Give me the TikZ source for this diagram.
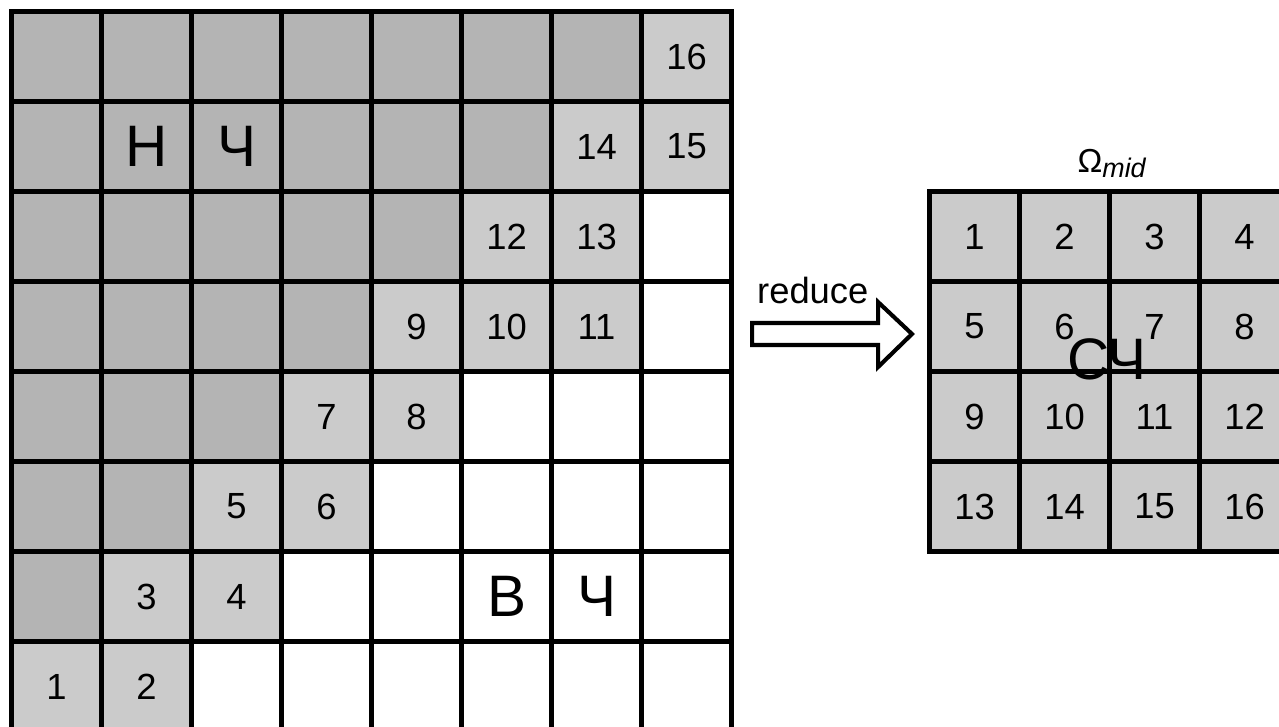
\documentclass[tikz,border=0pt]{standalone}
\usepackage{fontspec}
\setmainfont{Liberation Sans}
\usetikzlibrary{positioning,calc}
\definecolor{Dark}{HTML}{B4B4B4}
\definecolor{Light}{HTML}{CBCBCB}
\begin{document}
\begin{tikzpicture}[line width=1.3pt,
    cell/.style={fill=Light,minimum size=1cm,inner sep=0pt,font=\fontsize{11.5}{13}\selectfont},
    big/.style={inner sep=0pt,font=\fontsize{18.5}{20}\selectfont}]
    \useasboundingbox (0,0) rectangle (14.211,-8.067);
    \clip (0,0) rectangle (14.211,-8.067);
    % full band
    \begin{scope}[shift={(0.128,-8.128)}]
      \foreach \r/\n in {1/7,2/6,3/5,4/4,5/3,6/2,7/1}{\foreach \c in {1,...,\n}{\fill[Dark] (\c-1,8-\r) rectangle (\c,9-\r);}}
      \foreach \r/\c/\k in {8/1/1,8/2/2,7/2/3,7/3/4,6/3/5,6/4/6,5/4/7,5/5/8,4/5/9,4/6/10,4/7/11,3/6/12,3/7/13,2/7/14,2/8/15,1/8/16}{\node[cell] (a\k) at (\c-0.5,8.5-\r) {\k};}
      \draw (0,0) grid (8,8);
      \draw (0,0) rectangle (8,8);
      \node[big] (lowA) at (1.5,6.5) {Н};
      \node[big] (lowB) at (2.5,6.5) {Ч};
      \node[big] (highA) at (5.5,1.5) {В};
      \node[big] (highB) at (6.5,1.5) {Ч};
    \end{scope}
    % reduced band
    \begin{scope}[shift={(10.328,-6.128)}]
      \foreach \k in {1,...,16}{
        \pgfmathtruncatemacro\r{(\k-1)/4}
        \pgfmathtruncatemacro\c{mod(\k-1,4)}
        \node[cell] (b\k) at (\c+0.5,3.5-\r) {\k};}
      \draw (0,0) grid (4,4);
      \draw (0,0) rectangle (4,4);
      \node[big] (mid) at (1.97,2.13) {СЧ};
      \node[above=0.11cm of b2.north east,inner sep=0pt,font=\fontsize{10.5}{12}\selectfont] (omega) {Ω\raisebox{-1.5pt}{\fontsize{8.5}{10}\selectfont\itshape mid}};
    \end{scope}
    \draw (8.356,-3.589) -- (9.756,-3.589) -- (9.756,-3.356) -- (10.133,-3.711) -- (9.756,-4.078) -- (9.756,-3.833) -- (8.356,-3.833) -- cycle;
    \node[anchor=base west,inner sep=0pt,font=\fontsize{11.5}{13}\selectfont] (reduce) at (8.39,-3.367) {reduce};
\end{tikzpicture}
\end{document}
